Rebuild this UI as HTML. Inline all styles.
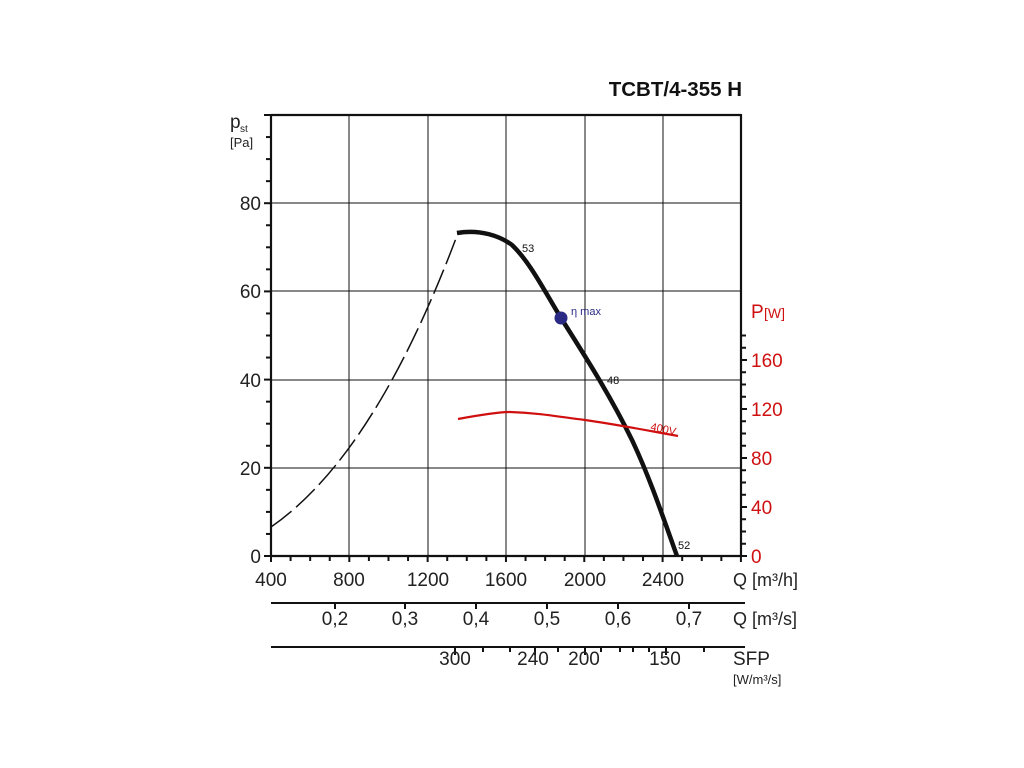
<!DOCTYPE html>
<html><head><meta charset="utf-8"><style>
html,body{margin:0;padding:0;background:#fff;}
svg{display:block;font-family:"Liberation Sans",Arial,sans-serif;}
</style></head><body>
<svg width="1024" height="768" viewBox="0 0 1024 768" xmlns="http://www.w3.org/2000/svg">
<rect width="1024" height="768" fill="#fff"/>
<text x="742" y="96" text-anchor="end" font-size="20.5" font-weight="bold" fill="#111">TCBT/4-355 H</text>
<g stroke="#111" stroke-width="1">
<line x1="349" y1="115" x2="349" y2="556"/>
<line x1="428" y1="115" x2="428" y2="556"/>
<line x1="506" y1="115" x2="506" y2="556"/>
<line x1="585" y1="115" x2="585" y2="556"/>
<line x1="663" y1="115" x2="663" y2="556"/>
<line x1="271" y1="203" x2="741" y2="203"/>
<line x1="271" y1="291" x2="741" y2="291"/>
<line x1="271" y1="380" x2="741" y2="380"/>
<line x1="271" y1="468" x2="741" y2="468"/>
</g>
<g stroke="#111" stroke-width="2.2" fill="none">
<line x1="271" y1="115" x2="741" y2="115"/>
<line x1="271" y1="114" x2="271" y2="557"/>
<line x1="741" y1="114" x2="741" y2="557"/>
<line x1="270" y1="556" x2="742" y2="556"/>
</g>
<g stroke="#111" stroke-width="2" id="lt"></g>
<g stroke="#111" stroke-width="2" id="bt"></g>
<g stroke="#111" stroke-width="2" id="rt"></g>
<script>
(function(){
var ns="http://www.w3.org/2000/svg";
function L(g,x1,y1,x2,y2){var l=document.createElementNS(ns,"line");l.setAttribute("x1",x1);l.setAttribute("y1",y1);l.setAttribute("x2",x2);l.setAttribute("y2",y2);document.getElementById(g).appendChild(l);}
for(var i=0;i<=20;i++){var y=556-i*22.05;L("lt",i%4==0?264:266,y,271,y);}
for(var j=0;j<=24;j++){var x=271+j*19.58;L("bt",x,556,x,j%4==0?562:561);}
for(var k=0;k<=18;k++){var y2=556-k*12.25;L("rt",741,y2,k%4==0?747:746,y2);}
})();
</script>
<g font-size="19" fill="#222" text-anchor="end">
<text x="261" y="563">0</text>
<text x="261" y="475">20</text>
<text x="261" y="387">40</text>
<text x="261" y="298">60</text>
<text x="261" y="210">80</text>
</g>
<text x="230" y="128" font-size="19" fill="#222">p</text>
<text x="240" y="132" font-size="10" fill="#222">st</text>
<text x="230" y="147" font-size="13" fill="#222">[Pa]</text>
<g font-size="19" fill="#d01010">
<text x="751" y="563">0</text>
<text x="751" y="514">40</text>
<text x="751" y="465">80</text>
<text x="751" y="416">120</text>
<text x="751" y="367">160</text>
<text x="751" y="318">P</text>
</g>
<text x="764" y="318" font-size="14" fill="#d01010">[W]</text>
<g font-size="19" fill="#222" text-anchor="middle">
<text x="271" y="586">400</text>
<text x="349" y="586">800</text>
<text x="428" y="586">1200</text>
<text x="506" y="586">1600</text>
<text x="585" y="586">2000</text>
<text x="663" y="586">2400</text>
</g>
<text x="733" y="586" font-size="18" fill="#222">Q [m³/h]</text>
<line x1="271" y1="603" x2="745" y2="603" stroke="#111" stroke-width="2"/>
<g stroke="#111" stroke-width="2">
<line x1="335" y1="603" x2="335" y2="609"/><line x1="405" y1="603" x2="405" y2="609"/>
<line x1="476" y1="603" x2="476" y2="609"/><line x1="547" y1="603" x2="547" y2="609"/>
<line x1="618" y1="603" x2="618" y2="609"/><line x1="689" y1="603" x2="689" y2="609"/>
</g>
<g font-size="19" fill="#222" text-anchor="middle">
<text x="335" y="625">0,2</text><text x="405" y="625">0,3</text><text x="476" y="625">0,4</text>
<text x="547" y="625">0,5</text><text x="618" y="625">0,6</text><text x="689" y="625">0,7</text>
</g>
<text x="733" y="625" font-size="18" fill="#222">Q [m³/s]</text>
<line x1="271" y1="647" x2="745" y2="647" stroke="#111" stroke-width="2"/>
<g stroke="#111" stroke-width="2">
<line x1="455" y1="647" x2="455" y2="655"/><line x1="483" y1="647" x2="483" y2="652"/>
<line x1="510" y1="647" x2="510" y2="652"/><line x1="535" y1="647" x2="535" y2="655"/>
<line x1="558" y1="647" x2="558" y2="652"/><line x1="585" y1="647" x2="585" y2="655"/>
<line x1="601" y1="647" x2="601" y2="652"/><line x1="620" y1="647" x2="620" y2="652"/>
<line x1="633" y1="647" x2="633" y2="652"/><line x1="649" y1="647" x2="649" y2="652"/>
<line x1="666" y1="647" x2="666" y2="655"/><line x1="704" y1="647" x2="704" y2="652"/>
</g>
<g font-size="19" fill="#222" text-anchor="middle">
<text x="455" y="665">300</text><text x="533" y="665">240</text>
<text x="584" y="665">200</text><text x="665" y="665">150</text>
</g>
<text x="733" y="665" font-size="19" fill="#222">SFP</text>
<text x="733" y="684" font-size="13" fill="#222">[W/m³/s]</text>
<path d="M271,527 Q375,455 458,233" fill="none" stroke="#111" stroke-width="1.5" stroke-dasharray="26,6"/>
<path d="M457,233 C480,229 500,236 512,245 C530,262 545,292 561,318 C585,356 610,395 632,440 C650,478 664,520 677,556" fill="none" stroke="#111" stroke-width="4.5"/>
<path d="M458,419 C485,414 500,412 510,412 C540,413 560,417 585,420 C620,425 650,431 678,436" fill="none" stroke="#d01010" stroke-width="2.2"/>
<circle cx="561" cy="318" r="6.5" fill="#2a2a85"/>
<text x="571" y="315" font-size="11" fill="#2a2a85">η max</text>
<text x="522" y="252" font-size="11" fill="#111">53</text>
<text x="607" y="384" font-size="11" fill="#111">48</text>
<text x="678" y="549" font-size="11" fill="#111">52</text>
<text x="650" y="430" font-size="11" fill="#d01010" transform="rotate(12 650 430)">400V</text>
</svg>
</body></html>
